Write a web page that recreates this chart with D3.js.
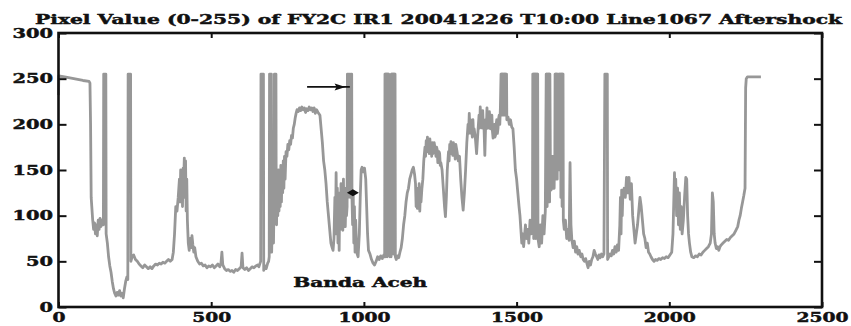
<!DOCTYPE html>
<html>
<head>
<meta charset="utf-8">
<script src="https://cdn.jsdelivr.net/npm/d3@7"></script>
<style>
  html, body { margin: 0; padding: 0; background: #fff; }
  svg { display: block; }
  text { font-family: "DejaVu Serif", "Liberation Serif", serif; font-weight: bold; fill: #111; stroke: #111; stroke-width: 0.45px; }
</style>
</head>
<body>
<svg id="chart" width="851" height="326"></svg>
<script>
// Pixel profile: [pixel index, value 0-255]
const profile = [
  [0,232],[1,253],[20,252],[50,250],[80,248],[100,247],[103,245],
  [105,200],[107,120],[109,110],[112,95],[115,85],[118,92],[121,80],[124,90],[127,78],[130,95],[133,85],[136,97],[139,88],[142,95],[145,90],
  [147,90],[148,255],[155,255],[156,80],
  [160,70],[164,55],[168,45],[172,38],[176,28],[180,20],[184,15],[188,12],[192,16],[196,13],[200,18],[204,12],[208,15],[212,10],[216,20],[220,28],[224,33],[227,30],
  [228,255],[236,255],[237,50],
  [241,55],[246,57],[252,52],[258,50],[264,47],[270,45],[276,43],[282,46],[288,44],[294,42],[300,44],[306,42],[312,45],[318,47],[324,46],[330,48],[336,47],[342,49],[348,48],[354,50],[360,52],[366,50],
  [372,52],[376,60],[380,80],[384,110],[388,105],[392,120],[396,140],[398,115],[400,150],[402,125],[404,148],[406,110],[408,152],[410,140],[412,163],[414,120],[416,160],[418,105],[420,140],[422,95],[425,70],[428,62],[431,75],[434,65],[437,78],[440,68],[443,60],[446,65],[450,55],
  [456,50],[462,47],[468,48],[474,45],[480,46],[486,43],[492,45],[498,44],[504,46],[510,43],[516,45],[522,47],[528,44],[532,48],[535,60],[538,46],[544,42],[550,40],[556,41],[562,39],[568,40],[574,38],[580,41],[586,40],[592,42],[598,44],[601,59],[604,43],[610,41],[616,43],[622,40],[628,42],[634,44],[640,43],[646,45],[652,46],[656,44],[660,48],
  [662,50],[663,255],[671,255],[672,40],[676,45],[680,42],[685,48],[688,50],
  [690,55],[691,255],[697,255],[698,60],[702,130],[704,70],[706,120],[707,255],[712,255],[713,100],
  [714,90],[716,140],[718,100],[720,150],[722,105],[724,145],[726,110],[728,155],[730,115],[732,150],[734,125],[736,160],[738,130],[740,165],[742,140],[745,170],[748,165],[751,178],[754,172],[757,182],[760,178],[763,188],[766,185],[769,196],[772,200],[775,207],[778,212],[781,216],
  [785,214],[789,218],[793,215],[797,219],[801,216],[805,218],[809,213],[813,217],[817,215],[821,219],[825,216],[829,218],[833,214],[837,218],[841,212],[845,216],[850,213],[856,210],
  [860,195],[864,180],[868,160],[872,150],[876,135],[880,115],[884,100],[888,85],[892,70],[896,65],[899,62],
  [902,75],[905,120],[907,80],[909,147],[911,95],[913,130],[915,70],[917,110],[919,62],[921,125],[923,85],[925,135],[927,90],[929,128],[931,84],[933,140],[935,95],[937,130],[939,88],[941,120],[943,100],
  [945,110],[946,255],[948,120],[950,255],[952,125],[954,255],[956,120],[958,255],[960,255],[961,120],
  [963,90],[965,125],[967,70],[969,110],[971,60],[973,95],[975,75],[978,58],[981,55],
  [985,80],[988,120],[991,150],[994,153],[998,148],[1002,152],[1006,140],[1009,110],[1012,80],[1015,62],
  [1020,58],[1025,52],[1030,48],[1035,46],[1040,50],[1045,55],[1050,52],[1055,56],[1060,53],[1065,57],[1068,55],
  [1069,255],[1070,55],[1071,255],[1072,60],[1073,255],[1074,58],[1075,255],[1076,55],[1077,255],[1078,60],[1079,255],[1080,58],[1081,255],[1082,200],[1083,60],[1084,200],[1085,55],[1086,200],[1087,60],[1088,200],[1089,55],[1090,255],[1091,60],[1092,255],[1093,58],[1094,255],[1095,60],[1096,255],[1097,58],[1098,255],[1099,62],[1100,255],[1101,60],[1102,255],[1103,55],
  [1106,52],[1110,56],[1114,54],[1118,60],[1122,65],
  [1126,75],[1130,90],[1134,100],[1138,115],[1142,125],[1146,130],[1150,140],[1154,145],[1158,150],[1162,153],[1166,145],
  [1169,135],[1171,110],[1173,130],[1175,108],[1177,128],[1179,112],[1181,135],[1183,105],[1185,125],[1187,115],[1190,130],[1193,140],[1196,160],
  [1200,175],[1202,165],[1204,182],[1206,172],[1208,186],[1210,170],[1212,178],[1214,168],[1216,184],[1218,172],[1220,175],[1222,165],[1224,180],[1226,168],[1228,170],[1230,180],[1232,176],
  [1236,165],[1238,175],[1240,172],[1242,158],[1244,160],[1246,170],[1248,168],[1250,155],[1252,158],
  [1256,150],[1260,130],[1264,110],[1267,99],[1270,120],[1273,150],
  [1277,170],[1279,160],[1281,178],[1283,168],[1285,181],[1287,170],[1289,176],[1291,166],[1293,180],[1295,168],[1297,172],[1299,162],[1301,178],
  [1305,170],[1309,160],[1313,165],
  [1317,140],[1321,120],[1325,106],[1329,125],[1333,150],
  [1337,180],[1341,200],[1343,190],[1345,212],[1347,196],[1349,205],[1351,190],[1353,198],[1355,186],[1357,205],[1359,190],[1361,195],
  [1365,185],[1369,168],[1373,190],
  [1377,210],[1379,196],[1381,219],[1383,200],[1385,208],[1387,196],[1389,215],[1391,198],[1393,200],[1396,166],[1399,205],[1401,195],[1403,218],[1405,200],[1407,206],[1409,196],[1411,214],
  [1415,195],[1417,205],[1419,210],[1421,192],[1423,185],[1425,198],[1427,200],[1429,186],[1431,188],[1433,200],[1435,205],[1437,190],[1439,195],[1441,206],[1443,210],[1445,200],[1447,219],
  [1449,255],[1450,215],[1451,255],[1452,210],[1453,255],[1454,215],[1455,255],[1456,210],[1457,255],[1458,215],[1459,255],[1460,210],[1461,255],[1462,212],[1463,255],[1464,210],[1465,255],[1467,255],[1468,205],
  [1472,208],[1476,200],[1480,205],[1484,197],[1488,195],
  [1492,175],[1496,150],[1500,140],[1504,125],[1508,110],[1511,100],
  [1514,85],[1517,70],[1520,80],[1523,66],[1526,78],[1529,90],[1532,75],
  [1536,85],[1540,70],[1544,95],[1548,80],[1552,90],
  [1553,255],[1554,80],[1555,255],[1556,75],[1557,255],[1558,85],[1559,255],[1560,80],[1561,255],[1562,75],[1563,255],[1564,85],[1565,255],[1566,80],[1567,255],[1568,75],[1569,255],[1570,75],
  [1574,66],[1578,90],[1582,70],[1586,100],[1590,80],[1594,105],
  [1597,255],[1598,110],[1599,255],[1600,110],[1601,255],[1602,120],[1603,255],[1604,120],[1605,255],[1606,120],[1607,255],[1608,115],[1609,255],
  [1611,130],[1612,164],[1613,128],[1614,160],[1615,132],[1616,165],[1617,130],[1618,160],[1619,132],[1620,165],[1621,130],[1622,160],[1623,130],[1624,165],[1625,140],
  [1626,255],[1627,140],[1628,255],[1629,140],[1630,255],[1631,140],[1632,255],[1633,140],[1634,255],[1640,255],[1641,150],[1642,255],[1643,150],[1644,255],[1645,120],[1646,255],[1647,120],[1648,255],[1649,110],[1650,255],[1651,110],[1652,255],[1653,95],
  [1656,85],[1660,95],[1664,75],[1668,85],[1672,73],
  [1675,158],[1678,90],[1681,73],
  [1685,65],[1689,72],[1693,60],[1697,66],[1701,58],[1705,62],
  [1710,55],[1714,58],[1718,52],[1722,50],[1726,53],[1730,48],[1734,43],[1738,50],[1742,46],[1746,52],[1750,55],[1754,62],[1758,58],[1762,55],[1766,52],[1770,57],[1774,54],[1778,58],[1782,55],[1786,58],
  [1789,255],[1797,255],[1798,52],
  [1802,55],[1806,58],[1810,56],[1814,62],[1818,58],[1822,66],[1826,60],[1830,68],[1834,62],
  [1838,90],[1840,120],[1842,80],[1844,128],[1846,100],[1848,125],
  [1852,130],[1856,120],[1860,142],[1864,125],[1868,142],[1872,118],[1876,135],
  [1880,100],[1884,85],[1888,70],[1892,80],
  [1896,90],[1900,105],[1904,120],[1908,110],[1912,95],
  [1916,80],[1920,75],[1924,65],[1928,70],[1932,60],[1936,58],
  [1940,55],[1945,52],[1950,50],[1955,52],[1960,51],[1966,53],[1972,52],[1978,54],[1984,53],[1990,55],[1996,54],[2002,57],[2008,60],
  [2012,80],[2015,120],[2017,147],[2019,110],[2021,140],
  [2024,100],[2027,130],[2030,90],[2033,125],[2036,85],[2039,110],[2042,80],
  [2046,95],[2050,120],[2054,142],[2057,140],[2060,100],
  [2063,80],[2066,70],[2070,60],[2074,55],
  [2080,54],[2086,56],[2092,55],[2098,58],[2104,57],[2110,60],[2116,62],[2122,64],[2128,66],[2134,70],
  [2138,80],[2141,125],[2144,115],[2147,80],
  [2150,70],[2154,64],[2158,66],[2162,62],[2166,66],[2170,68],
  [2176,70],[2182,72],[2188,74],[2194,73],[2200,76],[2206,78],[2212,80],[2218,84],
  [2224,88],[2228,95],[2232,100],[2236,108],[2240,115],[2244,122],
  [2248,130],[2250,240],[2252,250],[2256,252],[2270,252],[2285,252],[2300,252]
];

const xTicks = [0, 500, 1000, 1500, 2000, 2500];
const yTicks = [0, 50, 100, 150, 200, 250, 300];
const titleText = 'Pixel Value (0-255) of FY2C IR1 20041226 T10:00 Line1067 Aftershock';

// annotations, in data units
const arrowLine = [[814, 241], [954, 241]];
const diamondAt = [964, 125];
const placeLabel = { text: 'Banda Aceh', x: 988, y: 22 };

const svg = d3.select('#chart');
const margin = { left: 58.5, right: 822, top: 33, bottom: 307 };

const x = d3.scaleLinear().domain([0, 2500]).range([margin.left, margin.right]);
const y = d3.scaleLinear().domain([0, 300]).range([margin.bottom, margin.top]);

// data line
const line = d3.line().x((d) => x(d[0])).y((d) => y(d[1]));
svg.append('path')
  .datum(profile)
  .attr('fill', 'none')
  .attr('stroke', '#979797')
  .attr('stroke-width', 2.8)
  .attr('stroke-linejoin', 'round')
  .attr('d', line);

// axes, ticks pointing inward
const fmt = d3.format('d');
const gBottom = svg.append('g')
  .attr('transform', `translate(0,${margin.bottom})`)
  .call(d3.axisBottom(x).tickValues(xTicks).tickSize(-5).tickPadding(5).tickFormat(fmt));
const gTop = svg.append('g')
  .attr('transform', `translate(0,${margin.top})`)
  .call(d3.axisTop(x).tickValues(xTicks).tickSize(-5).tickFormat(''));
const gLeft = svg.append('g')
  .attr('transform', `translate(${margin.left},0)`)
  .call(d3.axisLeft(y).tickValues(yTicks).tickSize(-8).tickPadding(5.5).tickFormat(fmt));
const gRight = svg.append('g')
  .attr('transform', `translate(${margin.right},0)`)
  .call(d3.axisRight(y).tickValues(yTicks).tickSize(-8).tickFormat(''));

[gBottom, gTop, gLeft, gRight].forEach((g) => {
  g.select('.domain').remove();
  g.selectAll('.tick line').attr('stroke', '#111').attr('stroke-width', 2);
});

[gBottom, gLeft].forEach((g, i) => {
  g.selectAll('text')
    .attr('font-size', 13.5)
    .attr('font-family', '"DejaVu Serif", serif')
    .attr('font-weight', 'bold')
    .attr('fill', '#111')
    .attr('textLength', (d) => String(d).length * (i === 0 ? 13 : 13.5))
    .attr('lengthAdjust', 'spacingAndGlyphs');
});

// frame
svg.append('rect')
  .attr('x', margin.left)
  .attr('y', margin.top)
  .attr('width', margin.right - margin.left)
  .attr('height', margin.bottom - margin.top)
  .attr('fill', 'none')
  .attr('stroke', '#111')
  .attr('stroke-width', 2.6);

// title
svg.append('text')
  .attr('x', 35)
  .attr('y', 24)
  .attr('font-size', 13)
  .attr('textLength', 807)
  .attr('lengthAdjust', 'spacingAndGlyphs')
  .text(titleText);

// arrow annotation
const ay = y(arrowLine[0][1]);
svg.append('line')
  .attr('x1', x(arrowLine[0][0])).attr('y1', ay)
  .attr('x2', x(arrowLine[1][0])).attr('y2', ay)
  .attr('stroke', '#111').attr('stroke-width', 1.8);
const tip = x(940);
svg.append('path')
  .attr('d', `M${tip},${ay} L${tip - 11},${ay - 3.5} L${tip - 9},${ay} L${tip - 11},${ay + 3.5} Z`)
  .attr('fill', '#111');

// diamond marker
const dx = x(diamondAt[0]), dy = y(diamondAt[1]);
svg.append('path')
  .attr('d', `M${dx - 6},${dy} L${dx},${dy - 3.5} L${dx + 6},${dy} L${dx},${dy + 3.5} Z`)
  .attr('fill', '#111');

// place label
svg.append('text')
  .attr('x', x(placeLabel.x))
  .attr('y', y(placeLabel.y))
  .attr('text-anchor', 'middle')
  .attr('font-size', 12.5)
  .attr('textLength', 134)
  .attr('lengthAdjust', 'spacingAndGlyphs')
  .text(placeLabel.text);
</script>
</body>
</html>
